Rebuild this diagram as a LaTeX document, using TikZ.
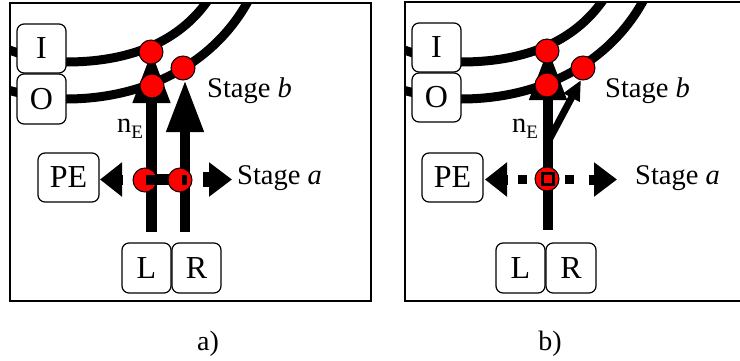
\documentclass[tikz,border=0pt]{standalone}
\usepackage{fontspec}
\setmainfont{Liberation Serif}
\usetikzlibrary{arrows.meta}
\begin{document}
\begin{tikzpicture}[x=1pt,y=-1pt,
  frame/.style={line width=2.7pt},
  track/.style={line width=9pt},
  box/.style={draw, line width=1.2pt, rounded corners=7pt, fill=white, inner sep=0pt,
    font=\fontsize{32}{32}\selectfont},
  dot/.style={circle, fill=red, draw=black, line width=1pt, minimum size=24pt, inner sep=0pt},
  lbl/.style={anchor=base west, inner sep=0pt, font=\fontsize{28.5}{30}\selectfont},
  caplbl/.style={anchor=base, inner sep=0pt, font=\fontsize{28}{30}\selectfont},
  bigarrow/.style={line width=10.5pt, -{Triangle[length=52pt,width=35pt]}},
  smallarrow/.style={line width=7pt, -{Triangle[length=20pt,width=17pt]}},
  sidetip/.style={line width=10pt, -{Triangle[length=22pt,width=33pt]}},
  sidearrow/.style={-{Triangle[length=23pt,width=33pt]}},
  dashpiece/.style={line width=9.5pt},
  notch/.style={fill=black}
]
\useasboundingbox (0,0) rectangle (740,360);

% ---------- tracks (curves) ----------
\begin{scope}
  \clip (10,3) rectangle (371,301);
  \draw[track] (0,47) .. controls (30,57) and (45,62) .. (66,62)
     .. controls (125,62) and (175,45) .. (206,3) -- ++(5,-7);
  \draw[track] (0,88) .. controls (30,96) and (45,99) .. (66,99)
     .. controls (140,99) and (210,68) .. (247,3) -- ++(4,-7);
\end{scope}
\begin{scope}
  \clip (405,2) rectangle (740,301);
  \begin{scope}[xshift=395pt]
  \draw[track] (0,47) .. controls (30,57) and (45,62) .. (66,62)
     .. controls (125,62) and (175,45) .. (206,3) -- ++(5,-7);
  \draw[track] (0,88) .. controls (30,96) and (45,99) .. (66,99)
     .. controls (140,99) and (210,68) .. (247,3) -- ++(4,-7);
  \end{scope}
\end{scope}

% ---------- frames ----------
\draw[frame] (10,3) rectangle (371,301);
\draw[frame] (745,2) -- (405,2) -- (405,301) -- (745,301);

% ---------- panel a ----------
\node[box, minimum width=49pt, minimum height=49pt] (Ia) at (41.5,48.5) {I};
\node[box, minimum width=49pt, minimum height=50pt] (Oa) at (41.5,99) {O};
\node[box, minimum width=61pt, minimum height=49pt] (PEa) at (68.5,177.5) {PE};
\node[box, minimum width=49pt, minimum height=50pt] (La) at (146.5,268) {L};
\node[box, minimum width=49pt, minimum height=50pt] (Ra) at (196.5,268) {R};

\coordinate (aLs) at (151.5,232);
\coordinate (aLt) at (151.5,51);
\coordinate (aRs) at (185,232);
\coordinate (aRt) at (185,80);
\draw[bigarrow] (aLs) -- (aLt);
\draw[bigarrow] (aRs) -- (aRt);

\draw[line width=10.5pt] (151.5,179.5) -- (185,179.5);
\coordinate (aPEb) at (123,179.5);
\coordinate (aPEt) at (100,179.5);
\draw[sidetip] (aPEb) -- (aPEt);
\coordinate (aSs) at (203,179.5);
\coordinate (aSt) at (232,179.5);
\draw[sidearrow, line width=15pt] (aSs) -- (aSt);

\node[dot] (a1) at (151,52) {};
\node[dot] (a2) at (152,86) {};
\node[dot] (a3) at (183,68) {};
\node[dot] (a4) at (145,180) {};
\node[dot] (a5) at (180,180) {};
\fill[notch] (146,174.5) rectangle (156.5,185);
\fill[notch] (182,174.5) rectangle (187.3,185);

\node[lbl] at (207,97) {Stage \textit{b}};
\node[lbl] at (237,184) {Stage \textit{a}};
\node[lbl] at (117,132) {n\raisebox{-6pt}{\fontsize{19}{19}\selectfont E}};
\node[caplbl] at (208,350) {a)};

% ---------- panel b ----------
\node[box, minimum width=49pt, minimum height=49pt] (Ib) at (436.5,47.5) {I};
\node[box, minimum width=49pt, minimum height=49pt] (Ob) at (436.5,97.5) {O};
\node[box, minimum width=61pt, minimum height=49pt] (PEb) at (452.5,177.5) {PE};
\node[box, minimum width=49pt, minimum height=50pt] (Lb) at (520.5,268) {L};
\node[box, minimum width=50pt, minimum height=50pt] (Rb) at (571,268) {R};

\coordinate (bVs) at (548,230);
\coordinate (bVt) at (548,48);
\draw[bigarrow] (bVs) -- (bVt);
\coordinate (bBs) at (549,140);
\coordinate (bBt) at (581,80);
\draw[smallarrow] (bBs) -- (bBt);

\coordinate (bPEb) at (508,179.5);
\coordinate (bPEt) at (485,179.5);
\draw[sidetip] (bPEb) -- (bPEt);
\draw[dashpiece] (518,179.5) -- (527,179.5);
\draw[dashpiece] (565,179.5) -- (574,179.5);
\coordinate (bSs) at (588.5,179.5);
\coordinate (bSt) at (617,179.5);
\draw[sidearrow, line width=10pt] (bSs) -- (bSt);

\node[dot] (b1) at (547,51) {};
\node[dot] (b2) at (547,85) {};
\node[dot] (b3) at (583,68) {};
\node[dot] (b4) at (547,179) {};
\draw[line width=3pt, fill=red] (542,173.5) rectangle (553,184.5);

\node[lbl] at (605,97) {Stage \textit{b}};
\node[lbl] at (635,184) {Stage \textit{a}};
\node[lbl] at (512,132) {n\raisebox{-6pt}{\fontsize{19}{19}\selectfont E}};
\node[caplbl] at (550,350) {b)};
\end{tikzpicture}
\end{document}
